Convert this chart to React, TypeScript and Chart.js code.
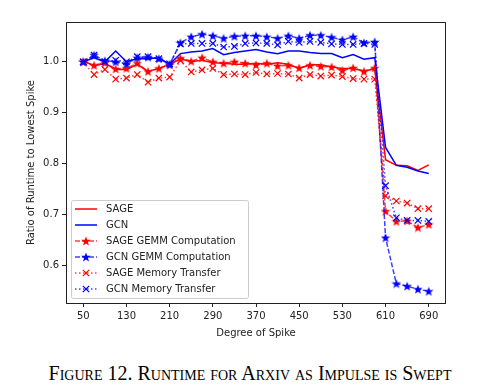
import React, { useEffect, useRef } from 'react';
import { Chart, registerables } from 'chart.js';

Chart.register(...registerables);

const degrees = [50, 70, 90, 110, 130, 150, 170, 190, 210, 230, 250, 270, 290, 310, 330, 350, 370, 390, 410, 430, 450, 470, 490, 510, 530, 550, 570, 590, 610, 630, 650, 670, 690];
const xTicks = [50, 130, 210, 290, 370, 450, 530, 610, 690];
const yTicks = [0.6, 0.7, 0.8, 0.9, 1.0];

const sage = [1.002, 0.992, 0.997, 0.985, 0.985, 0.995, 0.981, 0.987, 0.995, 1.006, 1.0, 1.003, 0.998, 0.997, 0.995, 0.995, 0.997, 0.995, 0.998, 0.995, 0.987, 0.994, 0.994, 0.99, 0.987, 0.987, 0.982, 0.986, 0.808, 0.797, 0.796, 0.787, 0.798];
const gcn = [1.0, 1.008, 1.0, 1.021, 1.0, 1.006, 1.006, 1.008, 0.995, 1.016, 1.019, 1.021, 1.026, 1.014, 1.018, 1.021, 1.024, 1.019, 1.016, 1.021, 1.021, 1.018, 1.016, 1.016, 1.008, 1.014, 1.005, 1.008, 0.832, 0.797, 0.793, 0.786, 0.781];
const sageGemm = [1.0, 0.993, 0.998, 0.986, 0.987, 0.997, 0.981, 0.987, 0.994, 1.007, 1.001, 1.008, 1.0, 0.997, 1.0, 0.997, 0.994, 0.997, 0.992, 0.993, 0.988, 0.993, 0.991, 0.99, 0.983, 0.988, 0.981, 0.988, 0.707, 0.687, 0.688, 0.675, 0.681];
const gcnGemm = [1.0, 1.013, 1.002, 1.0, 0.996, 1.008, 1.009, 1.006, 0.995, 1.037, 1.049, 1.054, 1.051, 1.046, 1.05, 1.051, 1.051, 1.049, 1.046, 1.051, 1.046, 1.052, 1.052, 1.048, 1.043, 1.049, 1.037, 1.039, 0.655, 0.565, 0.56, 0.554, 0.55];
const sageMem = [1.0, 0.975, 0.985, 0.966, 0.968, 0.975, 0.96, 0.968, 0.97, 1.002, 0.98, 0.984, 0.987, 0.975, 0.976, 0.975, 0.979, 0.976, 0.977, 0.976, 0.968, 0.975, 0.972, 0.974, 0.971, 0.967, 0.966, 0.966, 0.737, 0.727, 0.723, 0.712, 0.712];
const gcnMem = [1.0, 1.013, 1.0, 1.003, 1.0, 1.01, 1.01, 1.006, 0.996, 1.035, 1.036, 1.036, 1.036, 1.029, 1.03, 1.036, 1.037, 1.036, 1.033, 1.04, 1.038, 1.04, 1.038, 1.035, 1.034, 1.034, 1.036, 1.034, 0.757, 0.694, 0.689, 0.689, 0.687];

const seriesNames = ['SAGE', 'GCN', 'SAGE GEMM Computation', 'GCN GEMM Computation', 'SAGE Memory Transfer', 'GCN Memory Transfer'];

const RED = 'rgb(255,0,0)';
const BLUE = 'rgb(0,0,255)';
const RED_A = 'rgba(255,0,0,0.75)';
const BLUE_A = 'rgba(0,0,255,0.75)';
const DASH = [5, 2];
const DOT = [1.5, 2.5];

function makeStar(color: string, size: number) {
  const c = document.createElement('canvas');
  c.width = size;
  c.height = size;
  const ctx = c.getContext('2d')!;
  const cx = size / 2, cy = size / 2 + 0.4, R = size / 2, r = R * 0.42;
  ctx.beginPath();
  for (let i = 0; i < 10; i++) {
    const a = -Math.PI / 2 + (i * Math.PI) / 5;
    const rr = i % 2 === 0 ? R : r;
    ctx.lineTo(cx + rr * Math.cos(a), cy + rr * Math.sin(a));
  }
  ctx.closePath();
  ctx.fillStyle = color;
  ctx.fill();
  return c;
}

export default function App() {
  const ref = useRef<HTMLCanvasElement>(null);

  useEffect(() => {
    const canvas = ref.current!;
    const starR = makeStar(RED, 10);
    const starB = makeStar(BLUE, 10);
    const toPts = (arr: number[]) => arr.map((v, i) => ({ x: degrees[i], y: v }));

    const specs = [
      { data: sage, color: RED, dash: [] as number[], marker: null as any },
      { data: gcn, color: BLUE, dash: [] as number[], marker: null as any },
      { data: sageGemm, color: RED_A, dash: DASH, marker: starR },
      { data: gcnGemm, color: BLUE_A, dash: DASH, marker: starB },
      { data: sageMem, color: RED_A, dash: DOT, marker: 'crossRot' },
      { data: gcnMem, color: BLUE_A, dash: DOT, marker: 'crossRot' },
    ];
    const solid = [RED, BLUE, RED, BLUE, RED, BLUE];

    const datasets = specs.map((s, i) => ({
      label: seriesNames[i],
      data: toPts(s.data),
      borderColor: s.color,
      backgroundColor: solid[i],
      borderWidth: 1.5,
      borderDash: s.dash,
      tension: 0,
      pointStyle: s.marker || 'circle',
      pointRadius: s.marker ? 4.5 : 0,
      pointBorderColor: solid[i],
      pointBackgroundColor: solid[i],
      pointBorderWidth: 1.2,
      order: 6 - i,
    }));

    const framePlugin = {
      id: 'frame',
      afterDatasetsDraw(chart: any) {
        const { ctx, chartArea: a } = chart;
        ctx.save();
        ctx.strokeStyle = '#222';
        ctx.lineWidth = 1;
        ctx.strokeRect(Math.round(a.left) + 0.5, Math.round(a.top) + 0.5, Math.round(a.right - a.left) - 1, Math.round(a.bottom - a.top));
        ctx.restore();
      },
    };

    const legendPlugin = {
      id: 'mplLegend',
      afterDraw(chart: any) {
        const { ctx } = chart;
        const bx = 71.5, by = 200.5, bw = 177, bh = 98;
        ctx.save();
        ctx.beginPath();
        const rr = 2;
        ctx.moveTo(bx + rr, by);
        ctx.arcTo(bx + bw, by, bx + bw, by + bh, rr);
        ctx.arcTo(bx + bw, by + bh, bx, by + bh, rr);
        ctx.arcTo(bx, by + bh, bx, by, rr);
        ctx.arcTo(bx, by, bx + bw, by, rr);
        ctx.closePath();
        ctx.fillStyle = 'rgba(255,255,255,0.8)';
        ctx.fill();
        ctx.strokeStyle = '#cccccc';
        ctx.lineWidth = 1;
        ctx.stroke();
        ctx.font = '10px "DejaVu Sans"';
        ctx.textBaseline = 'middle';
        ctx.textAlign = 'left';
        specs.forEach((s, i) => {
          const y = 209 + i * 16;
          ctx.beginPath();
          ctx.setLineDash(s.dash);
          ctx.strokeStyle = s.color;
          ctx.lineWidth = 1.5;
          ctx.moveTo(75, y);
          ctx.lineTo(97, y);
          ctx.stroke();
          ctx.setLineDash([]);
          if (s.marker === 'crossRot') {
            ctx.beginPath();
            ctx.strokeStyle = solid[i];
            ctx.lineWidth = 1.2;
            const d = 3.2;
            ctx.moveTo(86 - d, y - d);
            ctx.lineTo(86 + d, y + d);
            ctx.moveTo(86 - d, y + d);
            ctx.lineTo(86 + d, y - d);
            ctx.stroke();
          } else if (s.marker) {
            ctx.drawImage(s.marker, 86 - 5, y - 5);
          }
          ctx.fillStyle = '#222';
          ctx.fillText(seriesNames[i], 106, y + 0.5);
        });
        ctx.restore();
      },
    };

    const chart = new Chart(canvas, {
      type: 'line',
      data: { datasets },
      options: {
        animation: false,
        responsive: false,
        devicePixelRatio: 1,
        layout: { padding: { top: 22, right: 32, left: 0, bottom: 0 } },
        plugins: { legend: { display: false }, tooltip: { enabled: false } },
        font: { family: '"DejaVu Sans"' },
        scales: {
          x: {
            type: 'linear',
            min: 18,
            max: 722,
            afterBuildTicks: (s: any) => { s.ticks = xTicks.map((v) => ({ value: v })); },
            afterFit: (s: any) => { s.height = 47; },
            ticks: { color: '#222', font: { family: '"DejaVu Sans"', size: 10 }, padding: 3, maxRotation: 0, autoSkip: false, callback: (v: any) => String(v) },
            grid: { drawOnChartArea: false, drawTicks: true, tickLength: 4, tickColor: '#222' },
            border: { display: false },
            title: { display: true, text: 'Degree of Spike', color: '#222', font: { family: '"DejaVu Sans"', size: 10 }, padding: { top: 0, bottom: 11 } },
          },
          y: {
            type: 'linear',
            min: 0.527,
            max: 1.078,
            afterBuildTicks: (s: any) => { s.ticks = yTicks.map((v) => ({ value: v })); },
            afterFit: (s: any) => { s.width = 66; },
            ticks: { color: '#222', font: { family: '"DejaVu Sans"', size: 10 }, padding: 3, autoSkip: false, callback: (v: any) => Number(v).toFixed(1) },
            grid: { drawOnChartArea: false, drawTicks: true, tickLength: 4, tickColor: '#222' },
            border: { display: false },
            title: { display: true, text: 'Ratio of Runtime to Lowest Spike', color: '#222', font: { family: '"DejaVu Sans"', size: 10 }, padding: { top: 25, bottom: 0 } },
          },
        },
      },
      plugins: [framePlugin, legendPlugin],
    } as any);
    return () => chart.destroy();
  }, []);

  return (
    <div style={{ position: 'absolute', left: 0, top: 0, width: 478, height: 391, background: '#fff', overflow: 'hidden' }}>
      <canvas ref={ref} width={478} height={350} style={{ display: 'block', width: 478, height: 350 }} />
      <div
        style={{
          position: 'absolute',
          left: 0,
          width: 478,
          top: 363,
          paddingLeft: 22,
          boxSizing: 'border-box',
          textAlign: 'center',
          fontFamily: '"Liberation Serif", serif',
          fontVariant: 'small-caps',
          fontSize: 20,
          lineHeight: '20px',
          color: '#000',
          whiteSpace: 'nowrap',
        }}
      >
        Figure 12. Runtime for Arxiv as Impulse is Swept
      </div>
    </div>
  );
}
